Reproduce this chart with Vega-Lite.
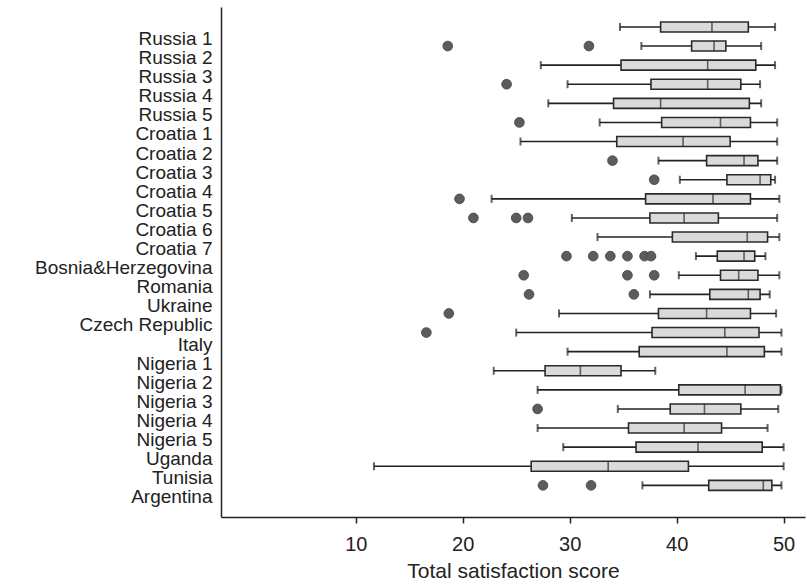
{
  "$schema": "https://vega.github.io/schema/vega-lite/v6.json",
  "autosize": "none",
  "width": 584,
  "height": 510,
  "padding": {"left": 221, "top": 7, "right": 2, "bottom": 69},
  "background": "white",
  "config": {
    "view": {"stroke": null},
    "font": "Liberation Sans",
    "axis": {"labelFont": "Liberation Sans", "titleFont": "Liberation Sans", "labelColor": "#222", "titleColor": "#222", "grid": false}
  },
  "datasets": {
    "boxes": [
      {"group": "Russia 1", "lo": 34.7, "q1": 38.5, "med": 43.3, "q3": 46.7, "hi": 49.2},
      {"group": "Russia 2", "lo": 36.7, "q1": 41.4, "med": 43.5, "q3": 44.6, "hi": 47.9},
      {"group": "Russia 3", "lo": 27.3, "q1": 34.8, "med": 42.9, "q3": 47.4, "hi": 49.2},
      {"group": "Russia 4", "lo": 29.8, "q1": 37.6, "med": 42.9, "q3": 46.0, "hi": 47.8},
      {"group": "Russia 5", "lo": 28.0, "q1": 34.1, "med": 38.5, "q3": 46.8, "hi": 47.9},
      {"group": "Croatia 1", "lo": 32.8, "q1": 38.6, "med": 44.1, "q3": 46.9, "hi": 49.4},
      {"group": "Croatia 2", "lo": 25.4, "q1": 34.4, "med": 40.6, "q3": 45.0, "hi": 49.4},
      {"group": "Croatia 3", "lo": 38.3, "q1": 42.8, "med": 46.3, "q3": 47.6, "hi": 49.4},
      {"group": "Croatia 4", "lo": 40.3, "q1": 44.7, "med": 47.8, "q3": 48.8, "hi": 49.2},
      {"group": "Croatia 5", "lo": 22.7, "q1": 37.1, "med": 43.4, "q3": 46.9, "hi": 49.6},
      {"group": "Croatia 6", "lo": 30.2, "q1": 37.5, "med": 40.7, "q3": 43.9, "hi": 49.4},
      {"group": "Croatia 7", "lo": 32.6, "q1": 39.6, "med": 46.6, "q3": 48.5, "hi": 49.6},
      {"group": "Bosnia&Herzegovina", "lo": 41.8, "q1": 43.8, "med": 46.3, "q3": 47.3, "hi": 48.3},
      {"group": "Romania", "lo": 40.2, "q1": 44.1, "med": 45.8, "q3": 47.6, "hi": 49.6},
      {"group": "Ukraine", "lo": 37.5, "q1": 43.1, "med": 46.7, "q3": 47.8, "hi": 48.7},
      {"group": "Czech Republic", "lo": 29.0, "q1": 38.3, "med": 42.8, "q3": 46.9, "hi": 49.3},
      {"group": "Italy", "lo": 25.0, "q1": 37.7, "med": 44.5, "q3": 47.7, "hi": 49.8},
      {"group": "Nigeria 1", "lo": 29.8, "q1": 36.5, "med": 44.7, "q3": 48.2, "hi": 49.8},
      {"group": "Nigeria 2", "lo": 22.9, "q1": 27.7, "med": 31.0, "q3": 34.8, "hi": 38.0},
      {"group": "Nigeria 3", "lo": 27.0, "q1": 40.2, "med": 46.4, "q3": 49.7, "hi": 49.8},
      {"group": "Nigeria 4", "lo": 34.5, "q1": 39.4, "med": 42.6, "q3": 46.0, "hi": 49.5},
      {"group": "Nigeria 5", "lo": 27.0, "q1": 35.5, "med": 40.7, "q3": 44.2, "hi": 48.5},
      {"group": "Uganda", "lo": 29.4, "q1": 36.2, "med": 42.0, "q3": 48.0, "hi": 50.0},
      {"group": "Tunisia", "lo": 11.7, "q1": 26.4, "med": 33.6, "q3": 41.1, "hi": 50.0},
      {"group": "Argentina", "lo": 36.8, "q1": 43.0, "med": 48.1, "q3": 48.9, "hi": 49.8}
    ],
    "outliers": [
      {"group": "Russia 2", "score": 18.6},
      {"group": "Russia 2", "score": 31.8},
      {"group": "Russia 4", "score": 24.1},
      {"group": "Croatia 1", "score": 25.3},
      {"group": "Croatia 3", "score": 34.0},
      {"group": "Croatia 4", "score": 37.9},
      {"group": "Croatia 5", "score": 19.7},
      {"group": "Croatia 6", "score": 21.0},
      {"group": "Croatia 6", "score": 25.0},
      {"group": "Croatia 6", "score": 26.1},
      {"group": "Bosnia&Herzegovina", "score": 29.7},
      {"group": "Bosnia&Herzegovina", "score": 32.2},
      {"group": "Bosnia&Herzegovina", "score": 33.8},
      {"group": "Bosnia&Herzegovina", "score": 35.4},
      {"group": "Bosnia&Herzegovina", "score": 37.0},
      {"group": "Bosnia&Herzegovina", "score": 37.6},
      {"group": "Romania", "score": 25.7},
      {"group": "Romania", "score": 35.4},
      {"group": "Romania", "score": 37.9},
      {"group": "Ukraine", "score": 26.2},
      {"group": "Ukraine", "score": 36.0},
      {"group": "Czech Republic", "score": 18.7},
      {"group": "Italy", "score": 16.6},
      {"group": "Nigeria 4", "score": 27.0},
      {"group": "Argentina", "score": 27.5},
      {"group": "Argentina", "score": 32.0}
    ]
  },
  "encoding": {
    "y": {
      "field": "group",
      "type": "nominal",
      "sort": null,
      "scale": {
        "domain": ["Russia 1", "Russia 2", "Russia 3", "Russia 4", "Russia 5", "Croatia 1", "Croatia 2", "Croatia 3", "Croatia 4", "Croatia 5", "Croatia 6", "Croatia 7", "Bosnia&Herzegovina", "Romania", "Ukraine", "Czech Republic", "Italy", "Nigeria 1", "Nigeria 2", "Nigeria 3", "Nigeria 4", "Nigeria 5", "Uganda", "Tunisia", "Argentina"],
        "paddingInner": 0,
        "paddingOuter": 0.85,
        "align": 0.32
      },
      "axis": {
        "title": null,
        "ticks": false,
        "domain": true,
        "domainColor": "#222",
        "domainWidth": 1.5,
        "labelFontSize": 19,
        "labelPadding": 9,
        "labelOffset": 12,
        "labelOverlap": false,
        "labelBound": false,
        "labelLimit": 400
      }
    }
  },
  "layer": [
    {
      "data": {"name": "boxes"},
      "mark": {"type": "rule", "color": "#222", "strokeWidth": 1.6},
      "encoding": {
        "x": {
          "field": "lo",
          "type": "quantitative",
          "scale": {"domain": [-2.6, 52], "nice": false, "zero": false},
          "axis": {
            "values": [10, 20, 30, 40, 50],
            "title": "Total satisfaction score",
            "titleFontSize": 21,
            "titleFontWeight": "normal",
            "titlePadding": 6,
            "labelFontSize": 20,
            "labelPadding": 11,
            "tickSize": 6,
            "tickColor": "#222",
            "tickWidth": 1.5,
            "domainColor": "#222",
            "domainWidth": 1.5
          }
        },
        "x2": {"field": "hi"}
      }
    },
    {
      "data": {"name": "boxes"},
      "mark": {"type": "tick", "color": "#222", "thickness": 2, "size": 8, "orient": "vertical"},
      "encoding": {"x": {"field": "lo", "type": "quantitative"}}
    },
    {
      "data": {"name": "boxes"},
      "mark": {"type": "tick", "color": "#222", "thickness": 2, "size": 8, "orient": "vertical"},
      "encoding": {"x": {"field": "hi", "type": "quantitative"}}
    },
    {
      "data": {"name": "boxes"},
      "mark": {"type": "bar", "size": 10, "fill": "#dadada", "stroke": "#2a2a2a", "strokeWidth": 1.6},
      "encoding": {
        "x": {"field": "q1", "type": "quantitative"},
        "x2": {"field": "q3"}
      }
    },
    {
      "data": {"name": "boxes"},
      "mark": {"type": "tick", "color": "#2a2a2a", "thickness": 1.6, "size": 10, "orient": "vertical"},
      "encoding": {"x": {"field": "med", "type": "quantitative"}}
    },
    {
      "data": {"name": "outliers"},
      "mark": {"type": "point", "filled": true, "size": 95, "color": "#5c5c5c", "opacity": 1, "stroke": "#444", "strokeWidth": 0.8},
      "encoding": {"x": {"field": "score", "type": "quantitative"}}
    }
  ]
}
